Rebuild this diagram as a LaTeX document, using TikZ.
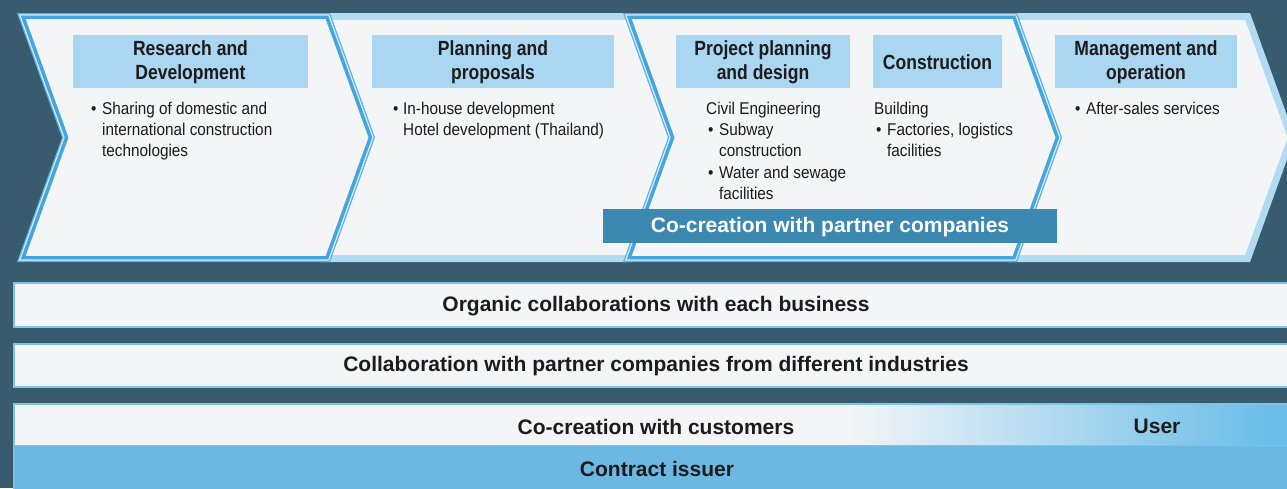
\documentclass[tikz,border=0pt]{standalone}
\usepackage{fontspec}
\setmainfont{Liberation Sans}
\newfontfamily\headf{Liberation Sans}[FakeStretch=0.855]
\newfontfamily\bodyf{Liberation Sans}[FakeStretch=0.9]
\definecolor{bg}{HTML}{385B6E}
\definecolor{pw}{HTML}{F3F5F7}
\definecolor{lb}{HTML}{A9D6F1}
\definecolor{bord}{HTML}{B0DBF3}
\definecolor{bl}{HTML}{45A5E0}
\definecolor{blthin}{HTML}{5AB3E6}
\definecolor{gap}{HTML}{D6ECF8}
\definecolor{cocr}{HTML}{3B88B1}
\definecolor{contr}{HTML}{6BB8E2}
\definecolor{bandb}{HTML}{7EC3EA}
\definecolor{userb}{HTML}{6BBDE8}
\definecolor{txt}{HTML}{1E1B1C}
% chevron: left x, right x (top corners), inset, colour
\newcommand\chev[4]{\fill[#4] ({#1+1.425*#3},{13+#3}) -- ({#2-0.702*#3},{13+#3}) -- ({#2+45-1.0634*#3},137.5) -- ({#2-0.702*#3},{262-#3}) -- ({#1+1.425*#3},{262-#3}) -- ({#1+45+1.0634*#3},137.5) -- cycle;}
\newcommand\plainchev[2]{\chev{#1}{#2}{0}{bord}\chev{#1}{#2}{7}{pw}}
\newcommand\hichev[2]{\chev{#1}{#2}{0}{blthin}\chev{#1}{#2}{1.3}{gap}\chev{#1}{#2}{2.6}{bl}\chev{#1}{#2}{6.2}{pw}}
\tikzset{
  head/.style={font=\headf\bfseries\fontsize{20.5}{24}\selectfont, align=center, text=txt, inner sep=0pt},
  body/.style={font=\bodyf\fontsize{17}{21}\selectfont, text=txt, anchor=base west, inner sep=0pt},
  bandtext/.style={font=\bfseries\fontsize{21}{25}\selectfont, text=txt, inner sep=0pt},
  lbox/.style={fill=lb, draw=none},
  bandbox/.style={fill=pw, draw=bandb, line width=1.5pt},
}
\begin{document}
\begin{tikzpicture}[x=1pt,y=-1pt]
\useasboundingbox (0,0) rectangle (1287,488);
\clip (0,0) rectangle (1287,488);
\fill[bg] (0,0) rectangle (1287,488);
% chevrons
\plainchev{320}{632}
\plainchev{1008}{1250}
\hichev{17}{330}
\hichev{623}{1017}
% label boxes
\fill[lbox] (73,35) rectangle (308,88);
\fill[lbox] (372,35) rectangle (614,88);
\fill[lbox] (676,35) rectangle (850,88);
\fill[lbox] (873,35) rectangle (1002,88);
\fill[lbox] (1055,35) rectangle (1237,88);
\node[head] (rd) at (190.5,62.5) {Research and\\Development};
\node[head] (pp) at (493,62.5) {Planning and\\proposals};
\node[head] (ppd) at (763,62.5) {Project planning\\and design};
\node[head] (con) at (937.5,62.5) {Construction};
\node[head] (mo) at (1146,62.5) {Management and\\operation};
% body texts
\node[body] (rdb) at (91,114) {•};
\node[body] (rd1) at (102,114) {Sharing of domestic and};
\node[body] (rd2) at (102,135) {international construction};
\node[body] (rd3) at (102,156) {technologies};
\node[body] (ppb) at (393,114) {•};
\node[body] (pp1) at (403,114) {In-house development};
\node[body] (pp2) at (403,135) {Hotel development (Thailand)};
\node[body] (pd0) at (706,114) {Civil Engineering};
\node[body] (pdb1) at (708,135) {•};
\node[body] (pd1) at (719,135) {Subway};
\node[body] (pd2) at (719,156) {construction};
\node[body] (pdb2) at (708,178) {•};
\node[body] (pd3) at (719,178) {Water and sewage};
\node[body] (pd4) at (719,199) {facilities};
\node[body] (co0) at (874,114) {Building};
\node[body] (cob) at (876,135) {•};
\node[body] (co1) at (887,135) {Factories, logistics};
\node[body] (co2) at (887,156) {facilities};
\node[body] (mob) at (1075,114) {•};
\node[body] (mo1) at (1086,114) {After-sales services};
% co-creation box
\fill[cocr] (603,209) rectangle (1057,243);
\node[bandtext, text=white] (cpc) at (830,227) {Co-creation with partner companies};
% bands
\draw[bandbox] (14,283) rectangle (1295,327);
\node[bandtext] (org) at (656,306) {Organic collaborations with each business};
\draw[bandbox] (14,344) rectangle (1295,387);
\node[bandtext] (cpi) at (656,366.5) {Collaboration with partner companies from different industries};
\draw[bandbox, fill=contr] (14,404) rectangle (1295,495);
\fill[pw] (15,405) rectangle (850,445);
\shade[left color=pw, right color=userb] (850,405) rectangle (1265,445);
\fill[userb] (1265,405) rectangle (1295,445);
\draw[bandb, line width=1pt] (14,445.5) -- (1295,445.5);
\node[bandtext] (cwc) at (656,426.5) {Co-creation with customers};
\node[bandtext] (usr) at (1157,426.5) {User};
\node[bandtext] (ci) at (657,468.5) {Contract issuer};
\end{tikzpicture}
\end{document}
